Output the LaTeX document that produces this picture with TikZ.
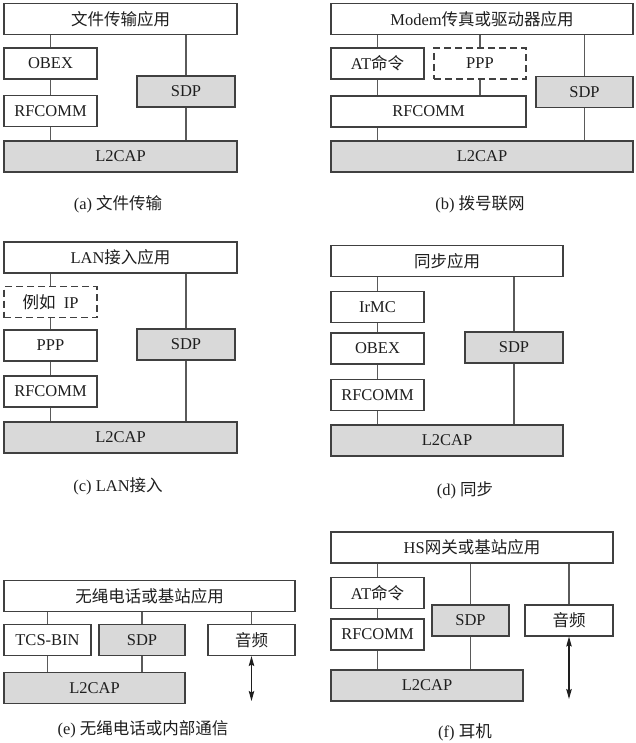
\documentclass[tikz,border=0pt]{standalone}
\usepackage{fontspec}
\setmainfont{Liberation Serif}
\newfontfamily\cjk{Noto Sans CJK SC}
\definecolor{framegray}{RGB}{64,64,64}
\definecolor{linkgray}{RGB}{90,90,90}
\definecolor{layergray}{RGB}{217,217,217}
\definecolor{inkdark}{RGB}{30,30,30}
\usepackage{tikz}
\usetikzlibrary{arrows.meta}

\tikzset{
  layer/.style={draw=framegray, line width=1.1pt, fill=white, inner sep=0pt,
    minimum height=31, text=inkdark, font=\fontsize{16.5}{19}\selectfont},
  lowlayer/.style={layer, fill=layergray},
  optlayer/.style={layer, dashed, dash pattern=on 7pt off 4pt},
  link/.style={draw=linkgray, line width=1.1pt},
  audiolink/.style={link, draw=inkdark, {Stealth[length=10pt,width=5.5pt,inset=1.5pt]}-{Stealth[length=10pt,width=5.5pt,inset=1.5pt]}},
  caption/.style={text=inkdark, font=\fontsize{16.5}{19}\selectfont}
}

\begin{document}
\begin{tikzpicture}[x=1pt, y=-1pt]
  \useasboundingbox (0,0) rectangle (636,743);

  % (a) file transfer
  \node[layer, minimum width=233] (aapp) at (120.5,19) {\cjk 文件传输应用};
  \node[layer, minimum width=93] (aobex) at (50.5,63.5) {OBEX};
  \node[layer, minimum width=93] (arfc) at (50.5,111) {RFCOMM};
  \node[lowlayer, minimum width=98] (asdp) at (186,91.5) {SDP};
  \node[lowlayer, minimum width=233] (al2) at (120.5,156.5) {L2CAP};
  \draw[link] (aapp.south -| aobex.north) -- (aobex.north);
  \draw[link] (aobex.south) -- (arfc.north);
  \draw[link] (arfc.south) -- (arfc.south |- al2.north);
  \draw[link] (aapp.south -| asdp.north) -- (asdp.north);
  \draw[link] (asdp.south) -- (asdp.south |- al2.north);
  \node[caption] (acap) at (118,204) {(a) {\cjk 文件传输}};

  % (b) dial-up networking
  \node[layer, minimum width=302] (bapp) at (482,19) {Modem{\cjk 传真或驱动器应用}};
  \node[layer, minimum width=93] (bat) at (377.5,63.5) {AT{\cjk 命令}};
  \node[optlayer, minimum width=92] (bppp) at (480,63.5) {PPP};
  \node[layer, minimum width=195] (brfc) at (428.5,111.5) {RFCOMM};
  \node[lowlayer, minimum width=97] (bsdp) at (584.5,92) {SDP};
  \node[lowlayer, minimum width=302] (bl2) at (482,156.5) {L2CAP};
  \draw[link] (bapp.south -| bat.north) -- (bat.north);
  \draw[link] (bapp.south -| bppp.north) -- (bppp.north);
  \draw[link] (bat.south) -- (bat.south |- brfc.north);
  \draw[link] (bppp.south) -- (bppp.south |- brfc.north);
  \draw[link] (brfc.south -| bat.south) -- (bl2.north -| bat.south);
  \draw[link] (bapp.south -| bsdp.north) -- (bsdp.north);
  \draw[link] (bsdp.south) -- (bsdp.south |- bl2.north);
  \node[caption] (bcap) at (480,204) {(b) {\cjk 拨号联网}};

  % (c) LAN access
  \node[layer, minimum width=233] (capp) at (120.5,257.5) {LAN{\cjk 接入应用}};
  \node[optlayer, minimum width=93] (cip) at (50.5,302) {{\cjk 例如}\ \ IP};
  \node[layer, minimum width=93] (cppp) at (50.5,345.5) {PPP};
  \node[layer, minimum width=93] (crfc) at (50.5,391.5) {RFCOMM};
  \node[lowlayer, minimum width=98] (csdp) at (186,344.5) {SDP};
  \node[lowlayer, minimum width=233] (cl2) at (120.5,437.5) {L2CAP};
  \draw[link] (capp.south -| cip.north) -- (cip.north);
  \draw[link] (cip.south) -- (cppp.north);
  \draw[link] (cppp.south) -- (crfc.north);
  \draw[link] (crfc.south) -- (crfc.south |- cl2.north);
  \draw[link] (capp.south -| csdp.north) -- (csdp.north);
  \draw[link] (csdp.south) -- (csdp.south |- cl2.north);
  \node[caption] (ccap) at (118,486) {(c) LAN{\cjk 接入}};

  % (d) synchronisation
  \node[layer, minimum width=232] (dapp) at (447,261) {\cjk 同步应用};
  \node[layer, minimum width=93] (dirmc) at (377.5,307) {IrMC};
  \node[layer, minimum width=93] (dobex) at (377.5,348.5) {OBEX};
  \node[layer, minimum width=93] (drfc) at (377.5,395) {RFCOMM};
  \node[lowlayer, minimum width=98] (dsdp) at (514,347.5) {SDP};
  \node[lowlayer, minimum width=232] (dl2) at (447,440.5) {L2CAP};
  \draw[link] (dapp.south -| dirmc.north) -- (dirmc.north);
  \draw[link] (dirmc.south) -- (dobex.north);
  \draw[link] (dobex.south) -- (drfc.north);
  \draw[link] (drfc.south) -- (drfc.south |- dl2.north);
  \draw[link] (dapp.south -| dsdp.north) -- (dsdp.north);
  \draw[link] (dsdp.south) -- (dsdp.south |- dl2.north);
  \node[caption] (dcap) at (465,490) {(d) {\cjk 同步}};

  % (e) cordless phone / intercom
  \node[layer, minimum width=291] (eapp) at (149.5,596) {\cjk 无绳电话或基站应用};
  \node[layer, minimum width=87] (etcs) at (47.5,640) {TCS-BIN};
  \node[lowlayer, minimum width=86] (esdp) at (142,640) {SDP};
  \node[layer, minimum width=87] (eaud) at (251.5,640) {\cjk 音频};
  \node[lowlayer, minimum width=181] (el2) at (94.5,688) {L2CAP};
  \coordinate (eaudend) at (251.5,701);
  \draw[link] (eapp.south -| etcs.north) -- (etcs.north);
  \draw[link] (eapp.south -| esdp.north) -- (esdp.north);
  \draw[link] (eapp.south -| eaud.north) -- (eaud.north);
  \draw[link] (etcs.south) -- (etcs.south |- el2.north);
  \draw[link] (esdp.south) -- (esdp.south |- el2.north);
  \draw[audiolink] (eaud.south) -- (eaudend);
  \node[caption] (ecap) at (143,729) {(e) {\cjk 无绳电话或内部通信}};

  % (f) headset
  \node[layer, minimum width=282] (fapp) at (472,547.5) {HS{\cjk 网关或基站应用}};
  \node[layer, minimum width=93] (fat) at (377.5,593) {AT{\cjk 命令}};
  \node[layer, minimum width=93] (frfc) at (377.5,634.5) {RFCOMM};
  \node[lowlayer, minimum width=77] (fsdp) at (470.5,620.5) {SDP};
  \node[layer, minimum width=88] (faud) at (569,620.5) {\cjk 音频};
  \node[lowlayer, minimum width=192] (fl2) at (427,685.5) {L2CAP};
  \coordinate (faudend) at (569,699);
  \draw[link] (fapp.south -| fat.north) -- (fat.north);
  \draw[link] (fat.south) -- (frfc.north);
  \draw[link] (frfc.south) -- (frfc.south |- fl2.north);
  \draw[link] (fapp.south -| fsdp.north) -- (fsdp.north);
  \draw[link] (fsdp.south) -- (fsdp.south |- fl2.north);
  \draw[link] (fapp.south -| faud.north) -- (faud.north);
  \draw[audiolink] (faud.south) -- (faudend);
  \node[caption] (fcap) at (465,732) {(f) {\cjk 耳机}};
\end{tikzpicture}
\end{document}
